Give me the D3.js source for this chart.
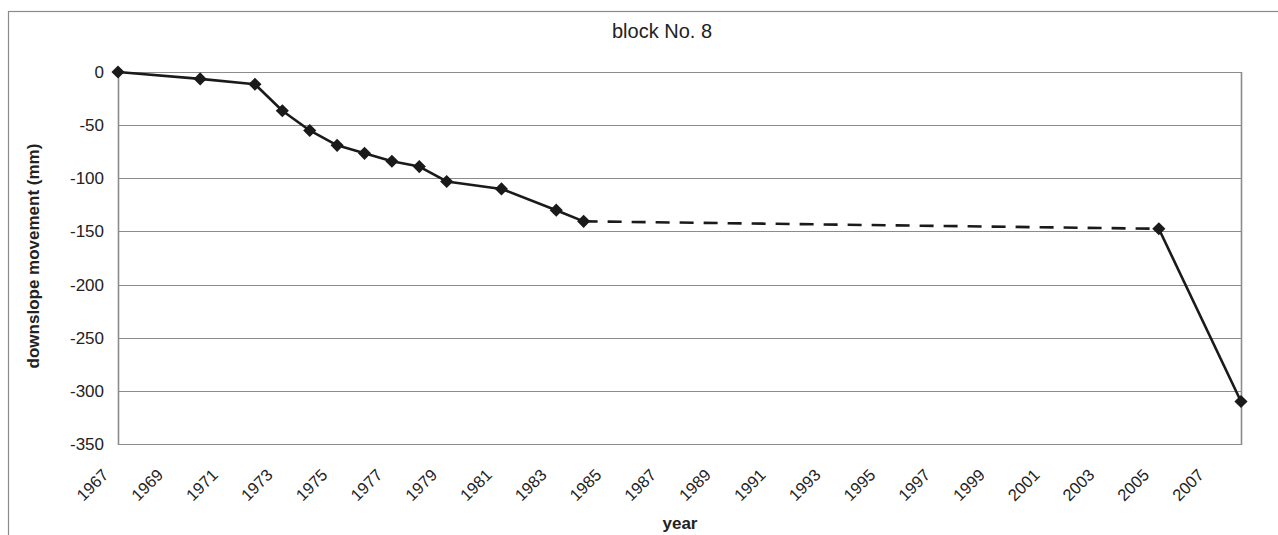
<!DOCTYPE html>
<html>
<head>
<meta charset="utf-8">
<script src="https://cdn.jsdelivr.net/npm/d3@7"></script>
<style>
  html, body { margin: 0; padding: 0; background: #fff; }
  svg { display: block; font-family: "Liberation Sans", Arial, sans-serif; }
</style>
</head>
<body>
<svg id="chart" width="1278" height="535"></svg>
<script>
// ---- data ----
const title = "block No. 8";
const yTitle = "downslope movement (mm)";
const xTitle = "year";
const years = [1967, 1970, 1972, 1973, 1974, 1975, 1976, 1977, 1978, 1979, 1981, 1983, 1984, 2005, 2008];
const movement = [0, -6.5, -11.5, -36.5, -55, -69, -76.5, -84, -89, -103, -110, -130, -140.5, -147.5, -310];
const dashedSegments = [[1984, 2005]];
const xTickYears = [1967, 1969, 1971, 1973, 1975, 1977, 1979, 1981, 1983, 1985, 1987, 1989, 1991, 1993, 1995, 1997, 1999, 2001, 2003, 2005, 2007];
const yTicks = [0, -50, -100, -150, -200, -250, -300, -350];

// ---- layout ----
const svg = d3.select("#chart");
const plot = { left: 118, right: 1241, top: 72, bottom: 444 };

const x = d3.scaleLinear().domain([1967, 2008]).range([plot.left, plot.right]);
const y = d3.scaleLinear().domain([-350, 0]).range([plot.bottom, plot.top]);

// outer frame
svg.append("rect")
  .attr("x", 8.5).attr("y", 11.5).attr("width", 1300).attr("height", 600)
  .attr("fill", "none").attr("stroke", "#8a8a8a").attr("stroke-width", 1.2);

// gridlines
svg.append("g").selectAll("line").data(yTicks).join("line")
  .attr("x1", plot.left).attr("x2", plot.right)
  .attr("y1", d => Math.round(y(d)) + 0.5).attr("y2", d => Math.round(y(d)) + 0.5)
  .attr("stroke", "#8c8c8c").attr("stroke-width", 1.2);

// plot area border (left, right)
svg.append("line").attr("x1", plot.left + 0.5).attr("x2", plot.left + 0.5)
  .attr("y1", plot.top).attr("y2", plot.bottom + 1)
  .attr("stroke", "#8c8c8c").attr("stroke-width", 1.6);
svg.append("line").attr("x1", plot.right + 0.5).attr("x2", plot.right + 0.5)
  .attr("y1", plot.top).attr("y2", plot.bottom + 1)
  .attr("stroke", "#8c8c8c").attr("stroke-width", 1.6);

// y axis tick labels
const yAxis = d3.axisLeft(y).tickValues(yTicks).tickSize(0).tickPadding(14)
  .tickFormat(d => d === 0 ? "0" : String(d));
const gy = svg.append("g").attr("transform", `translate(${plot.left},0)`).call(yAxis);
gy.select(".domain").remove();
gy.selectAll("text").attr("font-size", 17).attr("fill", "#222")
  .attr("font-family", "Liberation Sans, Arial, sans-serif");

// x axis tick labels (rotated)
const xAxis = d3.axisBottom(x).tickValues(xTickYears).tickSize(0).tickFormat(d3.format("d"));
const gx = svg.append("g").attr("transform", `translate(0,${plot.bottom})`).call(xAxis);
gx.select(".domain").remove();
gx.selectAll("text")
  .attr("font-size", 16.5).attr("fill", "#222")
  .attr("font-family", "Liberation Sans, Arial, sans-serif")
  .attr("text-anchor", "end")
  .attr("dy", null).attr("y", 0)
  .attr("transform", "translate(-9,32) rotate(-45)");

// line segments
const pts = years.map((yr, i) => ({ yr, v: movement[i] }));
const isDashed = (a, b) => dashedSegments.some(s => s[0] === a.yr && s[1] === b.yr);
const segs = d3.pairs(pts);
svg.append("g").selectAll("line").data(segs).join("line")
  .attr("x1", d => x(d[0].yr)).attr("y1", d => y(d[0].v))
  .attr("x2", d => x(d[1].yr)).attr("y2", d => y(d[1].v))
  .attr("stroke", "#1a1a1a").attr("stroke-width", 2.6)
  .attr("stroke-dasharray", d => isDashed(d[0], d[1]) ? "14,10" : null);

// markers
svg.append("g").selectAll("path").data(pts).join("path")
  .attr("d", d3.symbol().type(d3.symbolDiamond2).size(110))
  .attr("transform", d => `translate(${x(d.yr)},${y(d.v)})`)
  .attr("fill", "#1a1a1a");

// titles
svg.append("text").attr("x", 662).attr("y", 38).attr("text-anchor", "middle")
  .attr("font-size", 20).attr("fill", "#222").text(title);
svg.append("text").attr("transform", "translate(39,256) rotate(-90)")
  .attr("text-anchor", "middle").attr("font-size", 17).attr("font-weight", "bold")
  .attr("fill", "#222").text(yTitle);
svg.append("text").attr("x", 680).attr("y", 529).attr("text-anchor", "middle")
  .attr("font-size", 17).attr("font-weight", "bold").attr("fill", "#222").text(xTitle);
</script>
</body>
</html>
